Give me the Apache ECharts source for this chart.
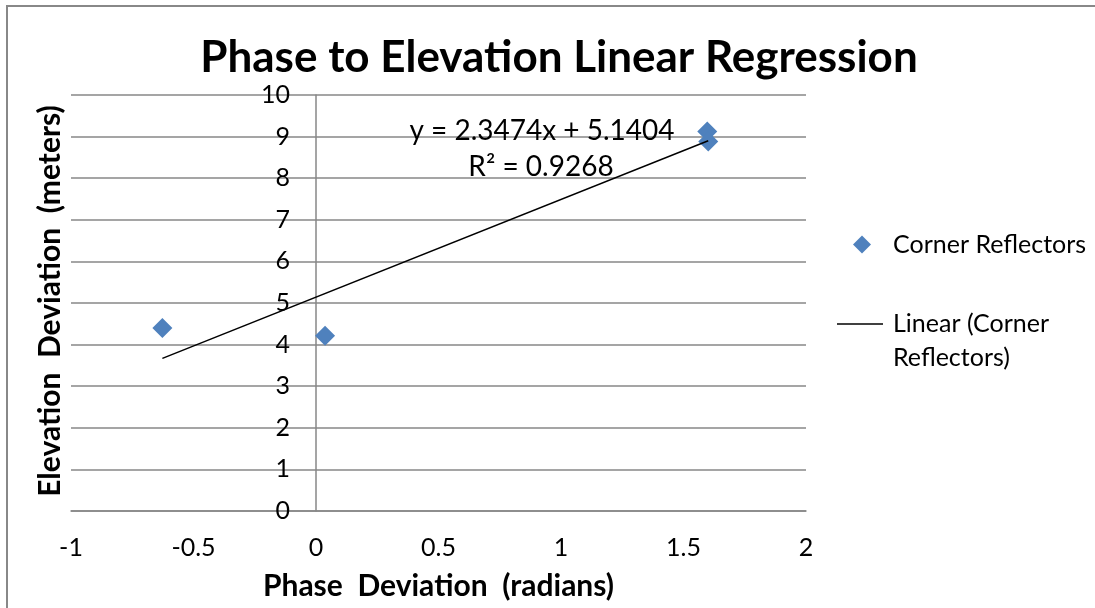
<!DOCTYPE html>
<html>
<head>
<meta charset="utf-8">
<script src="https://cdn.jsdelivr.net/npm/echarts@6/dist/echarts.min.js"></script>
<style>
html,body{margin:0;padding:0;background:#fff;}
#chart{width:1095px;height:608px;}
</style>
</head>
<body>
<div id="chart"></div>
<script>
// Data
const phase = [-0.627, 0.037, 1.597, 1.601];
const elevation = [4.40, 4.21, 9.12, 8.88];
const slope = 2.3474;
const intercept = 5.1404;
const rSquared = 0.9268;
const xMin = -1, xMax = 2, xStep = 0.5;
const yMin = 0, yMax = 10, yStep = 1;

const FONT = 'Lato';
const GRID_COLOR = '#878787';

const points = phase.map((x, i) => [x, elevation[i]]);
const xLo = Math.min(...phase), xHi = Math.max(...phase);
const trend = [[xLo, slope * xLo + intercept], [xHi, slope * xHi + intercept]];

const GRID = {left: 71, right: 289, top: 95, bottom: 97};
const plotW = 1095 - GRID.left - GRID.right;
// y axis crosses at x = 0 (as in the reference)
const yAxisOffset = -plotW * (0 - xMin) / (xMax - xMin);

const chart = echarts.init(document.getElementById('chart'), null, {renderer: 'canvas'});
chart.setOption({
  animation: false,
  backgroundColor: '#fff',
  textStyle: {fontFamily: FONT},
  title: {
    text: 'Phase to Elevation Linear Regression',
    left: 554, textAlign: 'center', top: 31,
    textStyle: {fontFamily: FONT, fontWeight: 'bold', fontSize: 44, color: '#000'}
  },
  grid: Object.assign({containLabel: false}, GRID),
  xAxis: {
    type: 'value', min: xMin, max: xMax, interval: xStep,
    name: 'Phase  Deviation  (radians)', nameLocation: 'middle', nameGap: 60,
    nameTextStyle: {fontFamily: FONT, fontWeight: 'bold', fontSize: 30, color: '#000'},
    axisLine: {show: true, onZero: false, lineStyle: {color: GRID_COLOR, width: 1.5}},
    axisTick: {show: false},
    splitLine: {show: false},
    axisLabel: {fontFamily: FONT, fontSize: 25, color: '#000', margin: 24}
  },
  yAxis: {
    type: 'value', min: yMin, max: yMax, interval: yStep,
    position: 'left', offset: yAxisOffset,
    axisLine: {show: true, onZero: false, lineStyle: {color: GRID_COLOR, width: 1.5}},
    axisTick: {show: false},
    splitLine: {show: true, lineStyle: {color: GRID_COLOR, width: 1.5}},
    axisLabel: {fontFamily: FONT, fontSize: 25, color: '#000', margin: 26}
  },
  legend: [
    {
      orient: 'vertical', left: 848, top: 227,
      data: [{name: 'Corner Reflectors', icon: 'diamond'}],
      itemWidth: 18, itemHeight: 18, selectedMode: false,
      textStyle: {fontFamily: FONT, fontSize: 25, color: '#000', padding: [0,0,0,17]}
    },
    {
      orient: 'vertical', left: 832, top: 268,
      data: [{name: 'Linear (Corner Reflectors)', icon: 'path://M0,0H46V1.5H0Z'}],
      itemWidth: 46, itemHeight: 14, selectedMode: false, symbolKeepAspect: true,
      formatter: () => '\nLinear (Corner\nReflectors)',
      textStyle: {fontFamily: FONT, fontSize: 25, color: '#000', lineHeight: 34, padding: [0,0,0,5]}
    }
  ],
  series: [
    {
      name: 'Corner Reflectors', type: 'scatter', data: points,
      symbol: 'diamond', symbolSize: 20,
      itemStyle: {color: '#4F81BD', opacity: 1}, z: 3
    },
    {
      name: 'Linear (Corner Reflectors)', type: 'line', data: trend,
      symbol: 'none', showSymbol: false,
      lineStyle: {color: '#000', width: 1.5}, itemStyle: {color: '#000'}, z: 4
    }
  ],
  graphic: [
    {type: 'rect', shape: {x: 7, y: 6, width: 1200, height: 700},
     style: {fill: 'none', stroke: '#888', lineWidth: 2}, silent: true, z: -1},
    {type: 'text', x: 50, y: 301, rotation: Math.PI / 2,
     style: {text: 'Elevation  Deviation  (meters)', fontFamily: FONT, fontWeight: 'bold', fontSize: 30,
             fill: '#000', align: 'center', verticalAlign: 'middle'}},
    {type: 'text', x: 542, y: 131,
     style: {text: 'y = ' + slope + 'x + ' + intercept, fontFamily: FONT, fontSize: 28,
             fill: '#000', align: 'center', verticalAlign: 'middle'}, z: 10},
    {type: 'text', x: 541, y: 167,
     style: {text: 'R² = ' + rSquared, fontFamily: FONT, fontSize: 28,
             fill: '#000', align: 'center', verticalAlign: 'middle'}, z: 10}
  ]
});
</script>
</body>
</html>
